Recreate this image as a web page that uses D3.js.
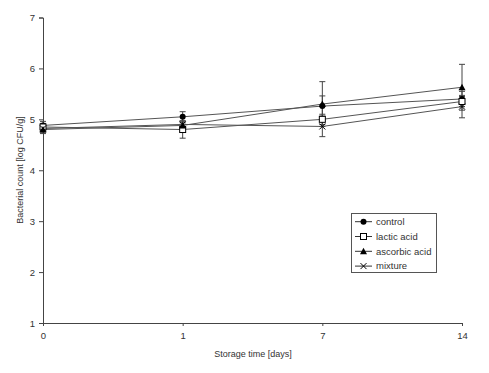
<!DOCTYPE html>
<html>
<head>
<meta charset="utf-8">
<script src="https://cdn.jsdelivr.net/npm/d3@7"></script>
<style>
body { margin: 0; background: #fff; }
svg { display: block; font-family: "Liberation Sans", Arial, sans-serif; }
</style>
</head>
<body>
<svg id="chart" width="489" height="373"></svg>
<script>
const days = ["0", "1", "7", "14"];
const seriesNames = ["control", "lactic acid", "ascorbic acid", "mixture"];
const control = [4.88, 5.05, 5.26, 5.40];
const lacticAcid = [4.85, 4.80, 5.00, 5.35];
const ascorbicAcid = [4.80, 4.88, 5.30, 5.63];
const mixture = [4.82, 4.90, 4.86, 5.25];
const controlErr = [0.08, 0.10, 0.20, 0.15];
const lacticErr = [0.06, 0.17, 0.10, 0.10];
const ascorbicErr = [0.05, 0.05, 0.44, 0.45];
const mixtureErr = [0.10, 0.07, 0.20, 0.22];
const yTicks = [1, 2, 3, 4, 5, 6, 7];
const markers = ["circle", "square", "triangle", "cross"];

const series = [
  { name: seriesNames[0], values: control, err: controlErr, marker: markers[0] },
  { name: seriesNames[1], values: lacticAcid, err: lacticErr, marker: markers[1] },
  { name: seriesNames[2], values: ascorbicAcid, err: ascorbicErr, marker: markers[2] },
  { name: seriesNames[3], values: mixture, err: mixtureErr, marker: markers[3] }
];

const svg = d3.select("#chart");
const x = d3.scalePoint().domain(days).range([43, 462]);
const y = d3.scaleLinear().domain([1, 7]).range([323, 17.5]);
const textColor = "#333";

// axes
const yAxis = svg.append("g").attr("transform", "translate(43,0)")
  .call(d3.axisLeft(y).tickValues(yTicks).tickSize(4).tickPadding(4).tickFormat(d3.format("d")));
const xAxis = svg.append("g").attr("transform", "translate(0,323)")
  .call(d3.axisBottom(x).tickSize(3).tickPadding(6));
[yAxis, xAxis].forEach(g => {
  g.select(".domain").attr("stroke", "#444");
  g.selectAll(".tick line").attr("stroke", "#444");
  g.selectAll("text").attr("font-size", 9.5).attr("fill", textColor)
    .attr("font-family", "'Liberation Sans', Arial, sans-serif");
});

svg.append("text").attr("x", 253).attr("y", 357).attr("text-anchor", "middle")
  .attr("font-size", 9).attr("fill", textColor).text("Storage time [days]");
svg.append("text").attr("transform", "translate(23,170) rotate(-90)").attr("text-anchor", "middle")
  .attr("font-size", 9).attr("fill", textColor).text("Bacterial count [log CFU/g]");

// lines
const line = d3.line().x((d, i) => x(days[i])).y(d => y(d));
svg.append("g").selectAll("path").data(series).join("path")
  .attr("d", s => line(s.values)).attr("fill", "none").attr("stroke", "#555").attr("stroke-width", 1);

// error bars
const eb = svg.append("g").attr("stroke", "#444").attr("stroke-width", 1);
series.forEach(s => {
  s.values.forEach((v, i) => {
    const cx = x(days[i]);
    const lo = y(v - s.err[i]), hi = y(v + s.err[i]);
    eb.append("line").attr("x1", cx).attr("x2", cx).attr("y1", lo).attr("y2", hi);
    eb.append("line").attr("x1", cx - 3).attr("x2", cx + 3).attr("y1", lo).attr("y2", lo);
    eb.append("line").attr("x1", cx - 3).attr("x2", cx + 3).attr("y1", hi).attr("y2", hi);
  });
});

function drawMarker(g, type, cx, cy) {
  if (type === "circle") {
    g.append("circle").attr("cx", cx).attr("cy", cy).attr("r", 3).attr("fill", "#000");
  } else if (type === "square") {
    g.append("rect").attr("x", cx - 3).attr("y", cy - 3).attr("width", 6).attr("height", 6)
      .attr("fill", "#fff").attr("stroke", "#000").attr("stroke-width", 1);
  } else if (type === "triangle") {
    g.append("path").attr("d", `M${cx},${cy - 3.5}L${cx + 3.5},${cy + 3}L${cx - 3.5},${cy + 3}Z`).attr("fill", "#000");
  } else {
    g.append("path").attr("d", `M${cx - 3},${cy - 3}L${cx + 3},${cy + 3}M${cx - 3},${cy + 3}L${cx + 3},${cy - 3}`)
      .attr("stroke", "#000").attr("stroke-width", 1).attr("fill", "none");
  }
}

const mk = svg.append("g");
series.forEach(s => s.values.forEach((v, i) => drawMarker(mk, s.marker, x(days[i]), y(v))));

// legend
const lg = svg.append("g");
lg.append("rect").attr("x", 351.5).attr("y", 213.5).attr("width", 85).attr("height", 59)
  .attr("fill", "#fff").attr("stroke", "#555").attr("stroke-width", 1);
series.forEach((s, i) => {
  const ly = 221.7 + i * 14.8;
  lg.append("line").attr("x1", 355).attr("x2", 372).attr("y1", ly).attr("y2", ly).attr("stroke", "#333");
  drawMarker(lg, s.marker, 363.5, ly);
  lg.append("text").attr("x", 376).attr("y", ly + 3.3).attr("font-size", 9.5).attr("fill", textColor).text(s.name);
});
</script>
</body>
</html>
